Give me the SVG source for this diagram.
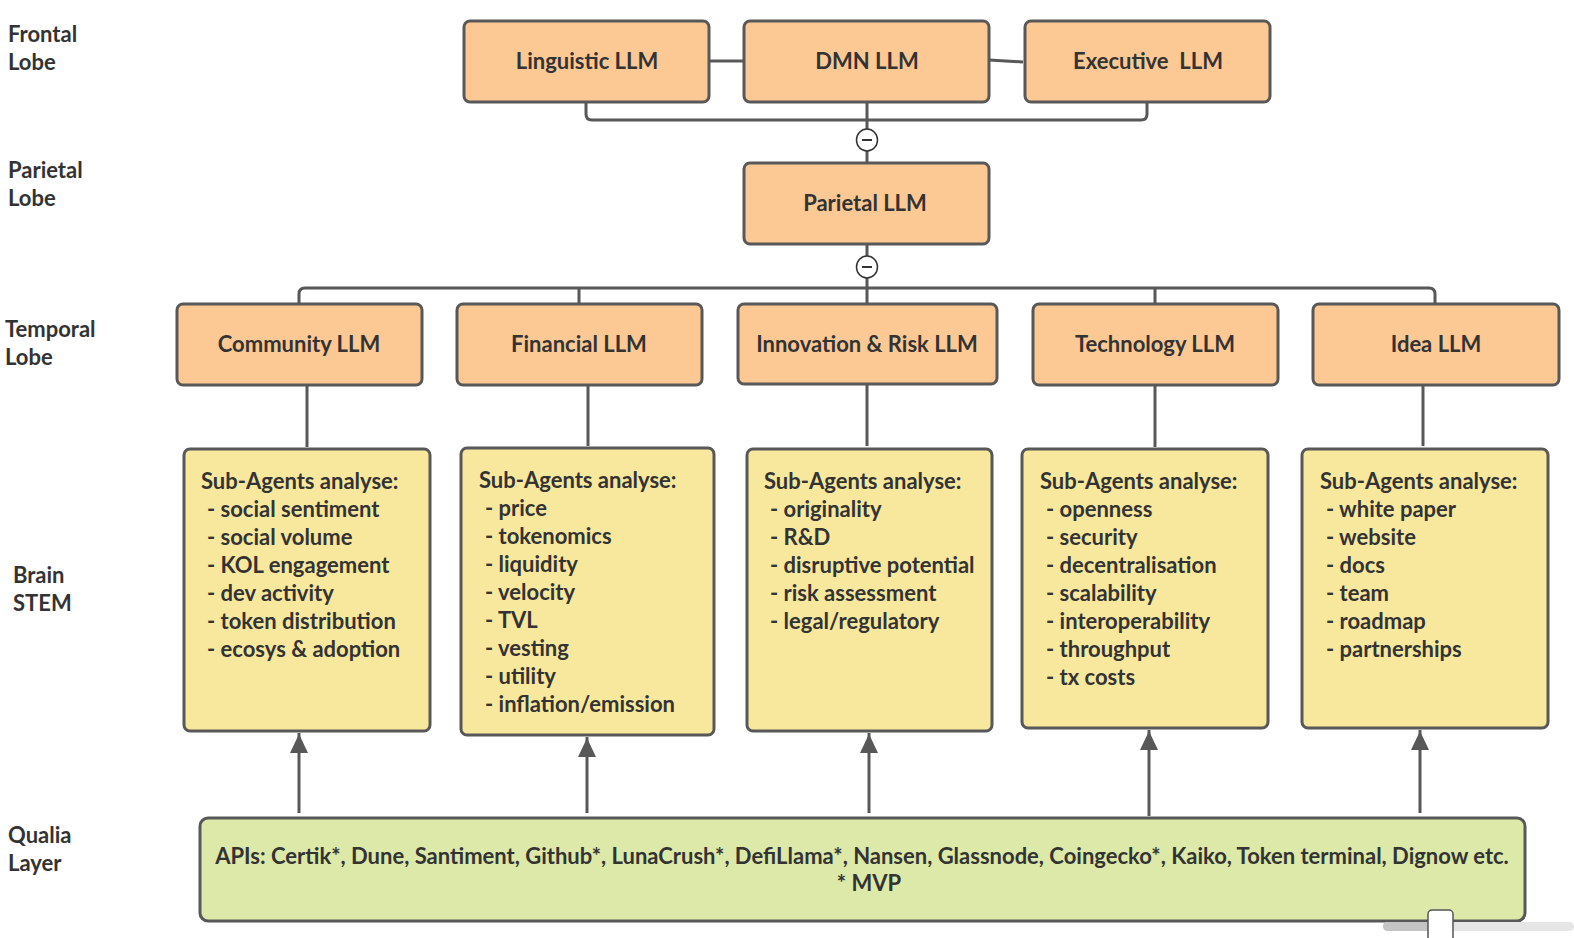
<svg xmlns="http://www.w3.org/2000/svg" width="1574" height="938" viewBox="0 0 1574 938">
<defs>
<style>
.llm{fill:#fcc994;stroke:#585858;stroke-width:3}
.sub{fill:#f7e89e;stroke:#585858;stroke-width:3}
.api{fill:#dce9a8;stroke:#585858;stroke-width:3}
.t{font-family:Lato,"Liberation Sans",sans-serif;font-weight:bold;fill:#333;font-size:22px}
.c{text-anchor:middle}
.lbl{font-family:Lato,"Liberation Sans",sans-serif;font-weight:bold;fill:#333;font-size:22px}
.ln{fill:none;stroke:#585858;stroke-width:3}
.col{fill:#fff;stroke:#333;stroke-width:1.5}
</style>
<marker id="arr" viewBox="0 0 20 20" refX="10" refY="0" markerWidth="20" markerHeight="20" markerUnits="userSpaceOnUse" orient="0">
<path d="M1,20 L10,1 L19,20 z" fill="#585858"/>
</marker>
</defs>
<rect width="1574" height="938" fill="#fff"/>

<g id="labels">
<text class="lbl" x="8" y="42">Frontal</text>
<text class="lbl" x="8" y="70">Lobe</text>
<text class="lbl" x="8" y="178">Parietal</text>
<text class="lbl" x="8" y="206">Lobe</text>
<text class="lbl" x="5" y="337">Temporal</text>
<text class="lbl" x="5" y="365">Lobe</text>
<text class="lbl" x="13" y="583">Brain</text>
<text class="lbl" x="13" y="611">STEM</text>
<text class="lbl" x="8" y="843">Qualia</text>
<text class="lbl" x="8" y="871">Layer</text>
</g>

<g id="connectors">
<line class="ln" x1="709" y1="61" x2="743" y2="61"/>
<line class="ln" x1="989" y1="60" x2="1023" y2="62"/>
<path class="ln" d="M586,102 V114 Q586,120 592,120 H1141 Q1147,120 1147,114 V102"/>
<line class="ln" x1="867" y1="102" x2="867" y2="162"/>
<line class="ln" x1="867" y1="243" x2="867" y2="303"/>
<path class="ln" d="M299,303 V294 Q299,288 305,288 H1429 Q1435,288 1435,294 V303"/>
<line class="ln" x1="579" y1="288" x2="579" y2="303"/>
<line class="ln" x1="1155" y1="288" x2="1155" y2="303"/>
<line class="ln" x1="307" y1="385" x2="307" y2="447"/>
<line class="ln" x1="588" y1="385" x2="588" y2="446"/>
<line class="ln" x1="867" y1="385" x2="867" y2="446"/>
<line class="ln" x1="1155" y1="385" x2="1155" y2="447"/>
<line class="ln" x1="1423" y1="385" x2="1423" y2="446"/>
<line class="ln" x1="299" y1="813" x2="299" y2="733" marker-end="url(#arr)"/>
<line class="ln" x1="587" y1="813" x2="587" y2="737" marker-end="url(#arr)"/>
<line class="ln" x1="869" y1="813" x2="869" y2="733" marker-end="url(#arr)"/>
<line class="ln" x1="1149" y1="816" x2="1149" y2="730" marker-end="url(#arr)"/>
<line class="ln" x1="1420" y1="813" x2="1420" y2="730" marker-end="url(#arr)"/>
<ellipse class="col" cx="867" cy="140" rx="10.5" ry="11"/>
<line x1="862" y1="140" x2="872" y2="140" stroke="#333" stroke-width="2"/>
<ellipse class="col" cx="867" cy="267" rx="10.5" ry="11"/>
<line x1="862" y1="267" x2="872" y2="267" stroke="#333" stroke-width="2"/>
</g>

<g id="linguistic"><rect class="llm" x="464" y="21" width="245" height="81" rx="6"/><text class="t c" x="587" y="69">Linguistic LLM</text></g>
<g id="dmn"><rect class="llm" x="744" y="21" width="245" height="81" rx="6"/><text class="t c" x="867" y="69">DMN LLM</text></g>
<g id="executive"><rect class="llm" x="1025" y="21" width="245" height="81" rx="6"/><text class="t c" x="1148" y="69" xml:space="preserve">Executive  LLM</text></g>
<g id="parietal"><rect class="llm" x="744" y="163" width="245" height="81" rx="6"/><text class="t c" x="865" y="211">Parietal LLM</text></g>

<g id="community"><rect class="llm" x="177" y="304" width="245" height="81" rx="6"/><text class="t c" x="299" y="352">Community LLM</text></g>
<g id="financial"><rect class="llm" x="457" y="304" width="245" height="81" rx="6"/><text class="t c" x="579" y="352">Financial LLM</text></g>
<g id="innovation"><rect class="llm" x="738" y="304" width="259" height="80" rx="6"/><text class="t c" x="867" y="352">Innovation &amp; Risk LLM</text></g>
<g id="technology"><rect class="llm" x="1033" y="304" width="245" height="81" rx="6"/><text class="t c" x="1155" y="352">Technology LLM</text></g>
<g id="idea"><rect class="llm" x="1313" y="304" width="246" height="81" rx="6"/><text class="t c" x="1436" y="352">Idea LLM</text></g>

<g id="community-sub"><rect class="sub" x="184" y="449" width="246" height="282" rx="6"/>
<text class="t" x="201" y="489">Sub-Agents analyse:</text>
<text class="t" x="207" y="517">- social sentiment</text>
<text class="t" x="207" y="545">- social volume</text>
<text class="t" x="207" y="573">- KOL engagement</text>
<text class="t" x="207" y="601">- dev activity</text>
<text class="t" x="207" y="629">- token distribution</text>
<text class="t" x="207" y="657">- ecosys &amp; adoption</text>
</g>
<g id="financial-sub"><rect class="sub" x="461" y="448" width="253" height="287" rx="6"/>
<text class="t" x="479" y="488">Sub-Agents analyse:</text>
<text class="t" x="485" y="516">- price</text>
<text class="t" x="485" y="544">- tokenomics</text>
<text class="t" x="485" y="572">- liquidity</text>
<text class="t" x="485" y="600">- velocity</text>
<text class="t" x="485" y="628">- TVL</text>
<text class="t" x="485" y="656">- vesting</text>
<text class="t" x="485" y="684">- utility</text>
<text class="t" x="485" y="712">- inflation/emission</text>
</g>
<g id="innovation-sub"><rect class="sub" x="747" y="449" width="245" height="282" rx="6"/>
<text class="t" x="764" y="489">Sub-Agents analyse:</text>
<text class="t" x="770" y="517">- originality</text>
<text class="t" x="770" y="545">- R&amp;D</text>
<text class="t" x="770" y="573">- disruptive potential</text>
<text class="t" x="770" y="601">- risk assessment</text>
<text class="t" x="770" y="629">- legal/regulatory</text>
</g>
<g id="technology-sub"><rect class="sub" x="1022" y="449" width="246" height="279" rx="6"/>
<text class="t" x="1040" y="489">Sub-Agents analyse:</text>
<text class="t" x="1046" y="517">- openness</text>
<text class="t" x="1046" y="545">- security</text>
<text class="t" x="1046" y="573">- decentralisation</text>
<text class="t" x="1046" y="601">- scalability</text>
<text class="t" x="1046" y="629">- interoperability</text>
<text class="t" x="1046" y="657">- throughput</text>
<text class="t" x="1046" y="685">- tx costs</text>
</g>
<g id="idea-sub"><rect class="sub" x="1302" y="449" width="246" height="279" rx="6"/>
<text class="t" x="1320" y="489">Sub-Agents analyse:</text>
<text class="t" x="1326" y="517">- white paper</text>
<text class="t" x="1326" y="545">- website</text>
<text class="t" x="1326" y="573">- docs</text>
<text class="t" x="1326" y="601">- team</text>
<text class="t" x="1326" y="629">- roadmap</text>
<text class="t" x="1326" y="657">- partnerships</text>
</g>

<g id="apis"><rect class="api" x="200" y="818" width="1325" height="103" rx="8"/>
<text class="t c" x="862" y="864">APIs: Certik*, Dune, Santiment, Github*, LunaCrush*, DefiLlama*, Nansen, Glassnode, Coingecko*, Kaiko, Token terminal, Dignow etc.</text>
<text class="t c" x="869" y="891">* MVP</text>
</g>

<g id="scrollbar">
<rect x="1383" y="922" width="191" height="9" rx="4.5" fill="#e6e6e6"/>
<rect x="1383" y="922" width="60" height="9" rx="4.5" fill="#c4c4c4"/>
<rect x="1428" y="910" width="25" height="32" rx="4" fill="#fff" stroke="#555" stroke-width="1.5"/>
</g>
</svg>
